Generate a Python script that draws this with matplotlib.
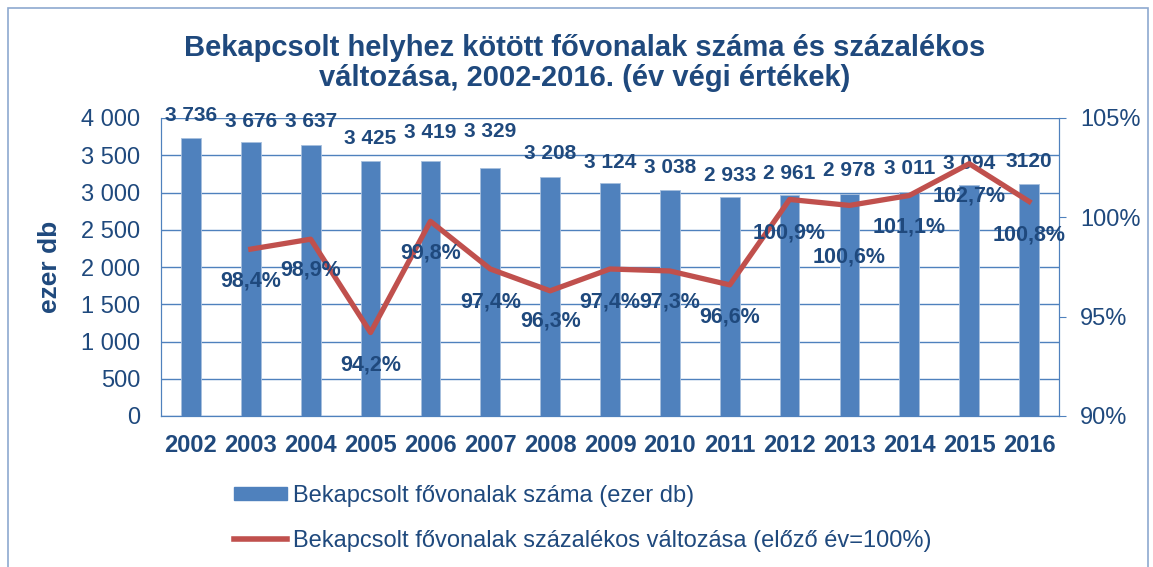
import matplotlib
matplotlib.use("Agg")
import matplotlib.pyplot as plt
from matplotlib.patches import Rectangle
from matplotlib.lines import Line2D

# Adatok
evek = ["2002", "2003", "2004", "2005", "2006", "2007", "2008", "2009",
        "2010", "2011", "2012", "2013", "2014", "2015", "2016"]
fovonalak = [3736, 3676, 3637, 3425, 3419, 3329, 3208, 3124,
             3038, 2933, 2961, 2978, 3011, 3094, 3120]
fovonal_cimkek = ["3 736", "3 676", "3 637", "3 425", "3 419", "3 329", "3 208", "3 124",
                  "3 038", "2 933", "2 961", "2 978", "3 011", "3 094", "3120"]
valtozas = [None, 98.4, 98.9, 94.2, 99.8, 97.4, 96.3, 97.4,
            97.3, 96.6, 100.9, 100.6, 101.1, 102.7, 100.8]

# cimkek eltolasa pontban (Excelben par darabot kezzel arrebb huztak)
oszlop_eltolas = [16, 15, 17, 16, 21, 26, 17, 15, 16, 16, 16, 17, 17, 16, 16]
szazalek_eltolas = [0, -23, -22, -23, -23, -24, -22, -24, -22, -23, -24, -37, -23, -23, -24]

kek = "#4F81BD"
piros = "#C0504D"
sotet = "#1F497D"
plt.rcParams["font.family"] = ["Liberation Sans", "DejaVu Sans"]

fig = plt.figure(figsize=(11.53, 5.67), dpi=100)
ax = fig.add_axes([161 / 1153, 1 - 416 / 567, 898 / 1153, 298 / 567])
ax2 = ax.twinx()

x = list(range(len(evek)))
ax.bar(x, fovonalak, width=0.33, color=kek, edgecolor="#A7BFDE", linewidth=0.6, zorder=2)
ax.set_xlim(-0.5, len(evek) - 0.5)
ax.set_ylim(0, 4000)
ax.set_yticks(range(0, 4001, 500))
ax.set_yticklabels(["0", "500", "1 000", "1 500", "2 000", "2 500", "3 000", "3 500", "4 000"])
ax.yaxis.grid(True, color=kek, linewidth=1, zorder=0)
ax.set_axisbelow(True)
ax.set_xticks(x)
ax.set_xticklabels(evek, fontsize=17, fontweight="bold", color=sotet)
ax.tick_params(axis="x", length=0, pad=13)
ax.tick_params(axis="y", labelsize=17, labelcolor=sotet, length=0, pad=15)
ax.set_ylabel("ezer db", fontsize=19, fontweight="bold", color=sotet, labelpad=14)

for s in ["left", "bottom", "right"]:
    ax.spines[s].set_color(kek)
    ax2.spines[s].set_color(kek)
ax.spines["top"].set_visible(False)
ax2.spines["top"].set_visible(False)

for i, lab in enumerate(fovonal_cimkek):
    ax.annotate(lab, (x[i], fovonalak[i]), xytext=(0, oszlop_eltolas[i]),
                textcoords="offset points", ha="center", va="center", fontsize=15,
                fontweight="bold", color=sotet, zorder=5, annotation_clip=False)

# vonal
xs = [i for i, v in enumerate(valtozas) if v is not None]
ys = [v for v in valtozas if v is not None]
ax2.plot(xs, ys, color=piros, linewidth=3.8, zorder=4)
ax2.set_ylim(90, 105)
ax2.set_yticks([90, 95, 100, 105])
ax2.set_yticklabels(["90%", "95%", "100%", "105%"])
ax2.tick_params(axis="y", labelsize=17, labelcolor=sotet, color=kek, length=5, pad=10)

for i, v in enumerate(valtozas):
    if v is None:
        continue
    ax2.annotate(f"{v:.1f}%".replace(".", ","), (x[i], v), xytext=(0, szazalek_eltolas[i]),
                 textcoords="offset points", ha="center", va="center", fontsize=15.5,
                 fontweight="bold", color=sotet, zorder=5, annotation_clip=False)

fig.text(0.507, 1 - 63 / 567, "Bekapcsolt helyhez kötött fővonalak száma és százalékos\n"
         "változása, 2002-2016. (év végi értékek)", ha="center", va="center",
         fontsize=21, fontweight="bold", color=sotet, linespacing=1.1)

handles = [Rectangle((0, 0), 1, 1, color=kek),
           Line2D([0], [0], color=piros, linewidth=4)]
labels = ["Bekapcsolt fővonalak száma (ezer db)",
          "Bekapcsolt fővonalak százalékos változása (előző év=100%)"]
fig.legend(handles, labels, loc="upper left", bbox_to_anchor=(213 / 1153, 1 - 464 / 567),
           frameon=False, fontsize=17, labelcolor=sotet, handlelength=2.25,
           handleheight=0.45, handletextpad=0.25, labelspacing=0.95)

# keret
fig.add_artist(Rectangle((8 / 1153, -0.05), 1140 / 1153, 1.05 - 8 / 567,
                         transform=fig.transFigure, fill=False,
                         edgecolor="#8EA9CF", linewidth=1.2))

fig.savefig("out.png", dpi=100)
